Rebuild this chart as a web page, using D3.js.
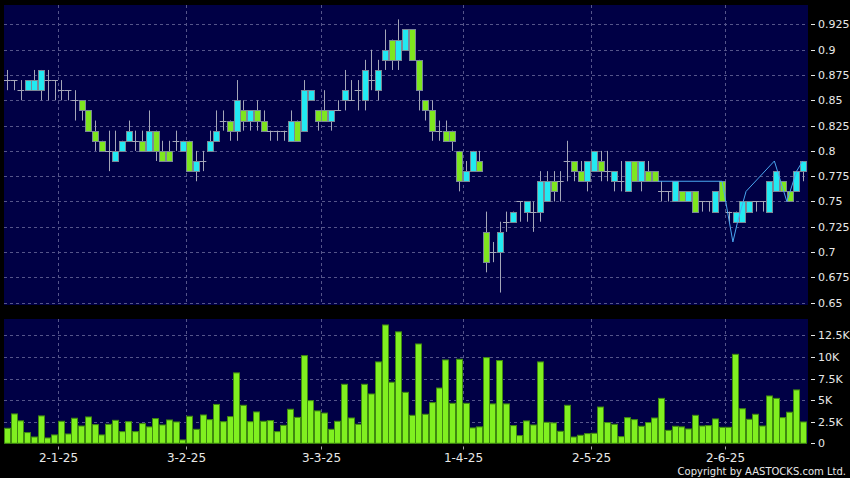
<!DOCTYPE html>
<html><head><meta charset="utf-8">
<script src="https://cdn.jsdelivr.net/npm/d3@7"></script>
<style>html,body{margin:0;padding:0;background:#000;}svg{display:block;}</style>
</head><body>
<svg id="chart" width="850" height="478"></svg>
<script>
// ---- data ----
const openP  = [.87,.87,.86,.86,.86,.86,.87,.87,.86,.86,.85,.85,.84,.82,.81,.80,.79,.80,.81,.81,.81,.80,.82,.80,.80,.81,.80,.81,.78,.79,.80,.81,.83,.83,.82,.84,.83,.84,.83,.82,.82,.82,.81,.83,.82,.85,.84,.84,.83,.84,.85,.85,.86,.85,.87,.86,.89,.91,.89,.90,.92,.89,.85,.84,.82,.82,.82,.80,.77,.78,.79,.72,.70,.70,.73,.73,.75,.74,.74,.74,.75,.77,.77,.79,.79,.78,.77,.78,.79,.78,.77,.77,.76,.79,.77,.78,.78,.76,.76,.75,.76,.75,.76,.75,.75,.74,.77,.74,.73,.73,.74,.75,.75,.74,.76,.77,.76,.76,.78];
const highP  = [.88,.87,.87,.87,.88,.88,.88,.87,.87,.86,.86,.85,.84,.83,.81,.82,.82,.81,.83,.82,.82,.84,.82,.81,.81,.82,.81,.81,.80,.80,.82,.84,.84,.83,.87,.85,.84,.85,.84,.82,.82,.82,.84,.83,.87,.86,.84,.86,.84,.85,.88,.87,.87,.89,.90,.89,.92,.91,.93,.92,.92,.89,.85,.85,.83,.83,.82,.80,.79,.80,.80,.74,.71,.73,.74,.74,.75,.75,.75,.78,.78,.78,.78,.81,.79,.79,.79,.80,.80,.80,.78,.79,.79,.79,.79,.79,.78,.77,.76,.77,.76,.76,.76,.75,.75,.76,.77,.74,.74,.75,.75,.75,.75,.77,.78,.77,.76,.78,.79];
const lowP   = [.86,.86,.85,.86,.86,.85,.85,.85,.85,.85,.83,.83,.82,.80,.80,.78,.79,.80,.81,.80,.80,.80,.79,.79,.79,.80,.80,.78,.77,.78,.80,.81,.82,.81,.81,.82,.82,.82,.82,.81,.81,.81,.81,.81,.82,.85,.82,.83,.82,.84,.84,.85,.84,.84,.86,.85,.88,.88,.88,.90,.89,.84,.83,.81,.81,.81,.80,.76,.77,.78,.78,.68,.69,.66,.72,.73,.73,.73,.72,.73,.75,.75,.75,.77,.77,.77,.76,.78,.77,.77,.76,.76,.76,.77,.76,.77,.77,.75,.75,.75,.75,.75,.74,.74,.74,.74,.75,.73,.73,.73,.74,.74,.74,.74,.76,.76,.75,.76,.77];
const closeP = [.87,.87,.86,.87,.87,.88,.87,.87,.86,.86,.85,.84,.82,.81,.80,.80,.80,.81,.82,.81,.80,.82,.80,.79,.79,.81,.81,.78,.79,.79,.81,.82,.83,.82,.85,.83,.84,.83,.82,.82,.82,.82,.83,.81,.86,.86,.83,.83,.84,.84,.86,.85,.86,.88,.87,.88,.90,.89,.91,.92,.89,.86,.84,.82,.82,.81,.81,.77,.78,.80,.78,.69,.70,.72,.73,.74,.75,.75,.74,.77,.77,.76,.77,.79,.78,.77,.79,.80,.78,.78,.78,.77,.79,.77,.79,.77,.77,.76,.76,.77,.75,.76,.74,.75,.75,.76,.75,.74,.74,.75,.75,.75,.75,.77,.78,.76,.75,.78,.79];
const volumeK = [1.74,3.4,2.6,1.24,0.73,3.17,0.62,0.97,2.55,1.08,2.9,2.0,3.05,2.16,0.97,2.2,2.66,1.35,2.5,1.35,2.28,1.9,2.86,2.12,2.7,2.47,0.39,3.13,1.62,3.28,2.74,4.5,2.5,3.09,8.15,4.4,2.5,3.63,2.55,2.63,1.35,2.08,3.94,3.0,10.15,4.94,3.75,3.5,1.62,2.55,6.83,2.93,2.2,6.83,5.71,9.42,13.7,7.07,12.9,5.9,3.24,11.5,3.36,4.71,6.4,9.65,4.63,9.73,4.63,1.78,1.9,9.92,4.56,9.58,4.56,2.05,0.89,2.59,2.12,9.42,2.43,2.36,1.39,4.4,0.73,0.93,1.12,1.16,4.2,2.4,2.2,0.77,2.97,2.74,1.97,2.4,2.93,5.2,1.5,1.97,1.9,1.66,3.24,2.0,2.05,2.82,1.85,1.85,10.3,4.0,2.78,3.36,2.0,5.48,5.2,2.97,3.6,6.18,2.47];
// overlay line: position in session units (0 = first session) and value
const linePos = [96.5,106,107.6,108.3,109.55,113.75,115.6,117.05,117.95];
const lineVal = [.77,.77,.71,.73,.76,.79,.75,.78,.79];
const dateLabels = ["2-1-25","3-2-25","3-3-25","1-4-25","2-5-25","2-6-25"];
const dateIdx = [7,26,46,67,86,106];
const priceTicks = [0.65,0.675,0.7,0.725,0.75,0.775,0.8,0.825,0.85,0.875,0.9,0.925];
const priceTickLabels = ["0.65","0.675","0.7","0.725","0.75","0.775","0.8","0.825","0.85","0.875","0.9","0.925"];
const volTicks = [0,2.5,5,7.5,10,12.5];
const volTickLabels = ["0","2.5K","5K","7.5K","10K","12.5K"];

// ---- layout ----
const svg = d3.select("#chart");
svg.append("rect").attr("width",850).attr("height",478).attr("fill","#000");
const plotL = 4, plotR = 808;
const top1 = 5, bot1 = 305, top2 = 319, bot2 = 443.3;
const bg = "#000045", gridC = "#55558a", textC = "#e8e8e8";

const x = d3.scaleBand().domain(d3.range(openP.length)).range([plotL, 806.4]).padding(0);
const step = x.step();
const cx = i => x(i) + step/2;
const edge = i => x(i) + step;
const xPos = d3.scaleLinear().domain([0, openP.length-1]).range([cx(0), cx(openP.length-1)]);
const y = d3.scaleLinear().domain([0.6477, 0.9442]).range([bot1, top1]);
const yv = d3.scaleLinear().domain([0, 14.39]).range([bot2, top2]);

svg.append("rect").attr("x",plotL).attr("y",top1).attr("width",plotR-plotL).attr("height",bot1-top1).attr("fill",bg);
svg.append("rect").attr("x",plotL).attr("y",top2).attr("width",plotR-plotL).attr("height",bot2-top2).attr("fill",bg);

// grid
const g = svg.append("g").attr("stroke",gridC).attr("stroke-width",1).attr("stroke-dasharray","3,3").attr("shape-rendering","crispEdges");
priceTicks.forEach(t=>g.append("line").attr("x1",plotL).attr("x2",plotR).attr("y1",Math.round(y(t))+0.5).attr("y2",Math.round(y(t))+0.5));
volTicks.slice(1).forEach(t=>g.append("line").attr("x1",plotL).attr("x2",plotR).attr("y1",Math.round(yv(t))+0.5).attr("y2",Math.round(yv(t))+0.5));
dateIdx.forEach(i=>{
  const xx = Math.round(edge(i))+0.5;
  g.append("line").attr("x1",xx).attr("x2",xx).attr("y1",top1).attr("y2",bot1);
  g.append("line").attr("x1",xx).attr("x2",xx).attr("y1",top2).attr("y2",bot2);
});

// candles
const cg = svg.append("g");
const wickC = "#a4a6b8", borderC = "#7a8896", upC = "#22eaf2", downC = "#7ee61e";
openP.forEach((o,i)=>{
  const c = closeP[i], h = highP[i], l = lowP[i];
  const xc = Math.round(cx(i))+0.5;
  cg.append("line").attr("x1",xc).attr("x2",xc).attr("y1",y(h)).attr("y2",y(l)).attr("stroke",wickC).attr("stroke-width",1);
  if (Math.abs(o-c) < 1e-9) {
    cg.append("line").attr("x1",x(i)).attr("x2",x(i)+step).attr("y1",Math.round(y(o))+0.5).attr("y2",Math.round(y(o))+0.5).attr("stroke",wickC).attr("stroke-width",1);
  } else {
    const t = Math.max(o,c), b = Math.min(o,c);
    cg.append("rect").attr("x",xc-3).attr("width",6).attr("y",Math.round(y(t))+0.5).attr("height",Math.round(y(b))-Math.round(y(t)))
      .attr("fill", c>o?upC:downC).attr("stroke",borderC).attr("stroke-width",1);
  }
});

// overlay line
svg.append("path").datum(linePos.map((d,k)=>[xPos(d), y(lineVal[k])]))
  .attr("d", d3.line()).attr("fill","none").attr("stroke","#4aa6f0").attr("stroke-width",1);

// volume
const vg = svg.append("g");
volumeK.forEach((v,i)=>{
  vg.append("rect").attr("x",Math.round(x(i))+0.5).attr("width",Math.round(step)-1).attr("y",yv(v)).attr("height",bot2-yv(v))
    .attr("fill","#80f020").attr("stroke","#3f8a10").attr("stroke-width",1);
});

// axes text
const font = "DejaVu Sans, sans-serif";
const ax = svg.append("g").attr("font-family",font).attr("fill",textC);
priceTicks.forEach((t,k)=>{
  const yy = Math.round(y(t))+0.5;
  ax.append("line").attr("x1",811).attr("x2",815).attr("y1",yy).attr("y2",yy).attr("stroke",textC);
  ax.append("text").attr("x",818).attr("y",yy).attr("dy","0.36em").attr("font-size",11).text(priceTickLabels[k]);
});
volTicks.forEach((t,k)=>{
  const yy = Math.round(yv(t))+0.5;
  ax.append("line").attr("x1",811).attr("x2",815).attr("y1",yy).attr("y2",yy).attr("stroke",textC);
  ax.append("text").attr("x",818).attr("y",yy).attr("dy","0.36em").attr("font-size",11).text(volTickLabels[k]);
});
dateIdx.forEach((i,k)=>{
  const xx = Math.round(edge(i))+0.5;
  ax.append("line").attr("x1",xx).attr("x2",xx).attr("y1",446.5).attr("y2",449.5).attr("stroke","#aaa");
  ax.append("text").attr("x",xx).attr("y",462).attr("text-anchor","middle").attr("font-size",12).text(dateLabels[k]);
});
ax.append("text").attr("x",846).attr("y",474.5).attr("text-anchor","end").attr("font-size",10).text("Copyright by AASTOCKS.com Ltd.");
</script>
</body></html>
